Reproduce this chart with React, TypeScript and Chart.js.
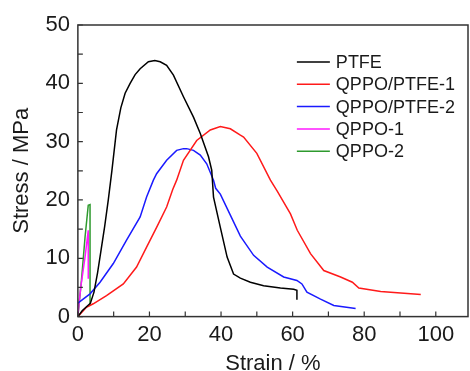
import { useEffect, useRef } from "react";
import { Chart, registerables } from "chart.js";

Chart.register(...registerables);

const seriesLabels = ["PTFE", "QPPO/PTFE-1", "QPPO/PTFE-2", "QPPO-1", "QPPO-2"];
const seriesColors = ["#000000", "#ff1a1a", "#1a1aff", "#ff1aff", "#2e9a2e"];

const ptfeStrain = [0, 1.2, 2.4, 3.5, 4.5, 5.5, 6.5, 7.5, 8.5, 9.5, 10.8, 12, 13.2, 14.6, 16, 17.4, 19.7, 21.5, 23, 24.8, 26.7, 29.5, 32.3, 34.2, 36.5, 37.4, 37.9, 39.8, 41.7, 43.5, 45.4, 48.2, 51.9, 56.6, 60.3, 61.2, 61.2];
const ptfeStress = [0, 1.0, 1.7, 2.3, 4.2, 7.5, 11.5, 15.5, 20, 25, 32, 35.8, 38.3, 40, 41.5, 42.5, 43.7, 43.9, 43.7, 43.1, 41.4, 37.7, 34.2, 31.4, 27.4, 25.1, 20.5, 15.3, 10.2, 7.3, 6.6, 5.9, 5.3, 4.9, 4.7, 4.5, 2.9];

const comp1Strain = [0, 2.4, 4.3, 8, 12.7, 16.4, 19.2, 22, 24.8, 26.5, 27.6, 29.5, 33.2, 37, 39.8, 42.6, 45.4, 46.3, 50, 53.8, 55.7, 59.4, 61.3, 65, 68.7, 73.4, 76.7, 78.5, 84.6, 95.8];
const comp1Stress = [0, 1.6, 2.2, 3.6, 5.6, 8.5, 11.9, 15.3, 18.8, 21.8, 23.4, 26.8, 30.2, 32, 32.6, 32.2, 31.1, 30.8, 28, 23.4, 21.5, 17.6, 14.8, 10.8, 7.9, 6.8, 5.9, 4.9, 4.3, 3.8];

const comp2Strain = [0, 3.4, 6.2, 9.9, 13.6, 17.4, 19.2, 21.1, 22, 24.8, 27.6, 29.5, 30.4, 32.3, 34.2, 36, 37.9, 38.5, 39.8, 42.6, 45.4, 49.1, 52.9, 57.5, 61.2, 62.6, 64, 67.8, 71.5, 77.6];
const comp2Stress = [2.3, 3.9, 5.9, 9.1, 13.1, 17.1, 20.5, 23.4, 24.5, 26.8, 28.5, 28.8, 28.8, 28.5, 27.7, 26.2, 23.4, 22.0, 21.0, 17.4, 13.8, 10.5, 8.5, 6.8, 6.2, 5.6, 4.2, 3.0, 1.9, 1.4];

const qppo1Strain = [0, 0.8, 2, 2.9, 2.9];
const qppo1Stress = [0.2, 5, 10.2, 14.8, 6.5];

const qppo2Strain = [0, 1, 2, 2.9, 3.4, 3.4];
const qppo2Stress = [0, 6.2, 13.6, 19.1, 19.2, 2];

const xRange = [0, 109];
const yRange = [0, 50];
const xLabelStep = 20;
const xMinorStep = 10;
const yLabelStep = 10;
const yMinorStep = 5;

const FONT = "'Liberation Sans', Arial, sans-serif";

function toPoints(xs: number[], ys: number[]) {
  return xs.map((x, i) => ({ x, y: ys[i] }));
}

const framePlugin = {
  id: "frame",
  afterDraw(chart: any) {
    const { ctx, chartArea } = chart;
    const { left, right, top, bottom } = chartArea;
    const xs = chart.scales.x;
    const ys = chart.scales.y;
    ctx.save();
    ctx.strokeStyle = "#333333";
    ctx.lineWidth = 1.5;
    ctx.strokeRect(left, top, right - left, bottom - top);
    ctx.lineWidth = 1.2;
    ctx.beginPath();
    xs.ticks.forEach((t: any) => {
      const px = xs.getPixelForValue(t.value);
      ctx.moveTo(px, bottom);
      ctx.lineTo(px, bottom - 5);
    });
    ys.ticks.forEach((t: any) => {
      const py = ys.getPixelForValue(t.value);
      ctx.moveTo(left, py);
      ctx.lineTo(left + 5, py);
    });
    ctx.stroke();

    // legend
    const rowStart = top + 37;
    const rowGap = 22.3;
    const lineX0 = left + 219;
    const lineX1 = left + 252;
    const textX = left + 258;
    ctx.font = `18px ${FONT}`;
    ctx.textBaseline = "middle";
    ctx.textAlign = "left";
    chart.data.datasets.forEach((ds: any, i: number) => {
      const y = rowStart + i * rowGap;
      ctx.strokeStyle = ds.borderColor;
      ctx.lineWidth = 1.5;
      ctx.beginPath();
      ctx.moveTo(lineX0, y);
      ctx.lineTo(lineX1, y);
      ctx.stroke();
      ctx.fillStyle = "#1a1a1a";
      ctx.fillText(ds.label, textX, y + 1);
    });
    ctx.restore();
  },
};

export default function App() {
  const ref = useRef<HTMLCanvasElement | null>(null);

  useEffect(() => {
    if (!ref.current) return;
    const seriesX = [ptfeStrain, comp1Strain, comp2Strain, qppo1Strain, qppo2Strain];
    const seriesY = [ptfeStress, comp1Stress, comp2Stress, qppo1Stress, qppo2Stress];
    const chart = new Chart(ref.current, {
      type: "line",
      data: {
        datasets: seriesLabels.map((label, i) => ({
          label,
          data: toPoints(seriesX[i], seriesY[i]),
          borderColor: seriesColors[i],
          backgroundColor: seriesColors[i],
          borderWidth: 1.5,
          pointRadius: 0,
          tension: 0,
          fill: false,
        })),
      },
      options: {
        responsive: false,
        animation: false,
        layout: { padding: { top: 25, right: 2, bottom: 0, left: 0 } },
        plugins: { legend: { display: false }, tooltip: { enabled: false } },
        scales: {
          x: {
            type: "linear",
            min: xRange[0],
            max: xRange[1],
            grid: { display: false, drawTicks: false },
            border: { display: false },
            ticks: {
              stepSize: xMinorStep,
              includeBounds: false,
              padding: 5,
              color: "#1a1a1a",
              font: { family: FONT, size: 22 },
              maxRotation: 0,
              autoSkip: false,
              callback: (v: any) => (Number(v) % xLabelStep === 0 ? String(v) : ""),
            },
            title: {
              display: true,
              text: "Strain / %",
              color: "#1a1a1a",
              font: { family: FONT, size: 22, lineHeight: 1.0 },
              padding: { top: 0, bottom: -4 },
            },
          },
          y: {
            type: "linear",
            min: yRange[0],
            max: yRange[1],
            grid: { display: false, drawTicks: false },
            border: { display: false },
            ticks: {
              stepSize: yMinorStep,
              padding: 8,
              color: "#1a1a1a",
              font: { family: FONT, size: 22 },
              autoSkip: false,
              callback: (v: any) => (Number(v) % yLabelStep === 0 ? String(v) : ""),
            },
            title: {
              display: true,
              text: "Stress / MPa",
              color: "#1a1a1a",
              font: { family: FONT, size: 22, lineHeight: 1.2 },
              padding: { top: 9, bottom: 2 },
            },
          },
        },
      },
      plugins: [framePlugin],
    });
    return () => chart.destroy();
  }, []);

  return (
    <div style={{ position: "absolute", left: 0, top: 0, width: 470, height: 371, background: "#fff" }}>
      <canvas ref={ref} width={470} height={371} />
    </div>
  );
}
